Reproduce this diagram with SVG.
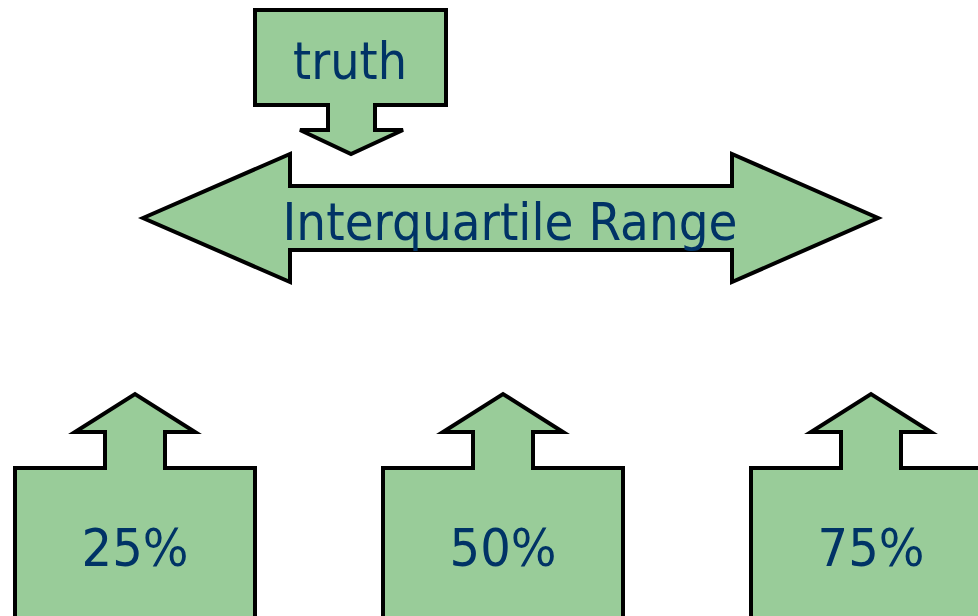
<svg xmlns="http://www.w3.org/2000/svg" width="978" height="616" viewBox="0 0 978 616">
<style>
.s{fill:#99CC99;stroke:#000;stroke-width:4;stroke-linejoin:miter}
.t{font-family:"DejaVu Sans","Liberation Sans",sans-serif;font-size:52px;fill:#003366;text-anchor:middle}
</style>
<rect width="978" height="616" fill="#fff"/>
<g id="truth">
<path class="s" d="M255,10 H446 V105 H375 V130 H403 L351,154 L300,130 H328 V105 H255 Z"/>
<text class="t" x="350" y="79" textLength="114" lengthAdjust="spacingAndGlyphs">truth</text>
</g>
<g id="iqr">
<path class="s" d="M143,218 L290,154 V186 H732 V154 L878,218 L732,282 V250 H290 V282 Z"/>
<text class="t" x="510" y="240" textLength="455" lengthAdjust="spacingAndGlyphs">Interquartile Range</text>
</g>
<g id="p25">
<path class="s" d="M15,640 V468 H105 V432 H75 L135,394 L195,432 H165 V468 H255 V640"/>
<text class="t" x="135" y="566" textLength="107" lengthAdjust="spacingAndGlyphs">25%</text>
</g>
<g id="p50">
<path class="s" d="M383,640 V468 H473 V432 H443 L503,394 L563,432 H533 V468 H623 V640"/>
<text class="t" x="503" y="566" textLength="107" lengthAdjust="spacingAndGlyphs">50%</text>
</g>
<g id="p75">
<path class="s" d="M751,640 V468 H841 V432 H811 L871,394 L931,432 H901 V468 H991 V640"/>
<text class="t" x="871" y="566" textLength="107" lengthAdjust="spacingAndGlyphs">75%</text>
</g>
<g id="connectors"></g>
</svg>
